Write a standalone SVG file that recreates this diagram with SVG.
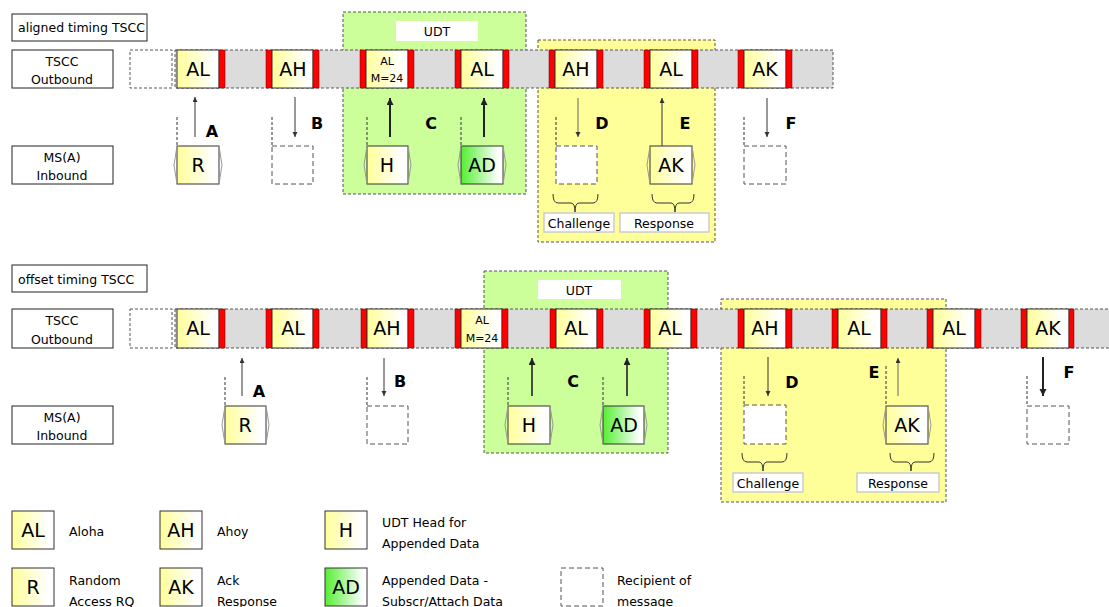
<svg xmlns="http://www.w3.org/2000/svg" width="1109" height="607" viewBox="0 0 1109 607">
<style>
text{font-family:"DejaVu Sans","Liberation Sans",sans-serif;fill:#000}
.lbl{fill:#fff;stroke:#222;stroke-width:1}
.lt{font-size:12.5px}
.ct{font-size:12.5px;text-anchor:middle}
.bar{fill:#dcdcdc;stroke:#555;stroke-width:1;stroke-dasharray:3,2}
.slot{fill:url(#gy);stroke:#333;stroke-width:1}
.slotg{fill:url(#gg);stroke:#333;stroke-width:1}
.red{fill:#f00;stroke:#600;stroke-width:0.5}
.st{font-size:19px;text-anchor:middle}
.sm{font-size:11px;text-anchor:middle}
.empty{fill:#fff;stroke:#555;stroke-width:1;stroke-dasharray:5,3}
.dv{stroke:#333;stroke-width:1;stroke-dasharray:3,2;fill:none}
.hex{fill:none;stroke:#999;stroke-width:1}
.green{fill:#ccff99;stroke:#555;stroke-width:1;stroke-dasharray:3,2}
.yel{fill:#ffff99;stroke:#555;stroke-width:1;stroke-dasharray:3,2}
.cap{fill:#fff;stroke:#ccc;stroke-width:1.5}
.brace{fill:none;stroke:#333;stroke-width:1}
.let{font-size:16px;font-weight:bold;text-anchor:middle}
.a1{stroke:#333;stroke-width:1;marker-end:url(#ah)}
.a2{stroke:#222;stroke-width:2;marker-end:url(#ahb)}
</style>
<defs>
<linearGradient id="gy" x1="0" y1="0" x2="1" y2="0"><stop offset="0" stop-color="#ffff99"/><stop offset="0.85" stop-color="#ffffff"/></linearGradient>
<linearGradient id="gg" x1="0" y1="0" x2="1" y2="0"><stop offset="0" stop-color="#55ee33"/><stop offset="0.9" stop-color="#ffffff"/></linearGradient>
<marker id="ah" markerUnits="userSpaceOnUse" markerWidth="6" markerHeight="6" refX="5" refY="2.5" orient="auto"><path d="M0,0 L5,2.5 L0,5 z" fill="#333"/></marker>
<marker id="ahb" markerUnits="userSpaceOnUse" markerWidth="9" markerHeight="8" refX="7" refY="3.5" orient="auto"><path d="M0,0 L7,3.5 L0,7 z" fill="#222"/></marker>
</defs>

<!-- ===== TOP: aligned timing ===== -->
<g id="top-areas">
<rect class="green" x="343" y="12" width="183" height="182"/>
<rect x="396" y="21" width="82" height="20" fill="#fff"/>
<text class="ct" x="437" y="36">UDT</text>
<rect class="yel" x="538" y="40" width="177" height="202"/>
</g>
<g id="top-label"><rect class="lbl" x="12" y="14" width="135" height="27"/><text class="lt" x="18" y="32">aligned timing TSCC</text></g>
<g id="top-out-label"><rect class="lbl" x="12" y="50" width="101" height="38"/><text class="ct" x="62" y="66">TSCC</text><text class="ct" x="62" y="84">Outbound</text></g>
<g id="top-in-label"><rect class="lbl" x="12" y="146" width="101" height="38"/><text class="ct" x="62" y="162">MS(A)</text><text class="ct" x="62" y="180">Inbound</text></g>
<g id="top-bar">
<rect class="empty" x="130" y="50" width="42" height="38" style="stroke-dasharray:3,2"/>
<rect class="bar" x="175" y="50" width="658" height="38"/>
</g>
<g id="top-slots">
<rect class="slot" x="177" y="50" width="42" height="38"/><rect class="red" x="219" y="50" width="6" height="38"/><text class="st" x="198" y="76">AL</text>
<rect class="red" x="266" y="50" width="6" height="38"/><rect class="slot" x="272" y="50" width="41" height="38"/><rect class="red" x="313" y="50" width="6" height="38"/><text class="st" x="293" y="76">AH</text>
<rect class="red" x="360" y="50" width="6" height="38"/><rect class="slot" x="366" y="50" width="42" height="38"/><rect class="red" x="408" y="50" width="6" height="38"/><text class="sm" x="387" y="65">AL</text><text class="sm" x="387" y="82">M=24</text>
<rect class="red" x="455" y="50" width="6" height="38"/><rect class="slot" x="461" y="50" width="42" height="38"/><rect class="red" x="503" y="50" width="6" height="38"/><text class="st" x="482" y="76">AL</text>
<rect class="red" x="549" y="50" width="6" height="38"/><rect class="slot" x="555" y="50" width="42" height="38"/><rect class="red" x="597" y="50" width="6" height="38"/><text class="st" x="576" y="76">AH</text>
<rect class="red" x="644" y="50" width="6" height="38"/><rect class="slot" x="650" y="50" width="42" height="38"/><rect class="red" x="692" y="50" width="6" height="38"/><text class="st" x="671" y="76">AL</text>
<rect class="red" x="738" y="50" width="6" height="38"/><rect class="slot" x="744" y="50" width="42" height="38"/><rect class="red" x="786" y="50" width="6" height="38"/><text class="st" x="765" y="76">AK</text>
</g>
<g id="top-R"><line class="dv" x1="177" y1="117" x2="177" y2="146"/><rect class="slot" x="177" y="146" width="42" height="38"/><polyline class="hex" points="177,146 174,165 177,184"/><polyline class="hex" points="219,146 222,165 219,184"/><text class="st" x="198" y="172">R</text></g>
<g id="top-B-box"><line class="dv" x1="272" y1="117" x2="272" y2="146"/><rect class="empty" x="272" y="146" width="41" height="38"/></g>
<g id="top-H"><line class="dv" x1="367" y1="117" x2="367" y2="146"/><rect class="slot" x="367" y="146" width="41" height="38"/><polyline class="hex" points="367,146 364,165 367,184"/><polyline class="hex" points="408,146 411,165 408,184"/><text class="st" x="387" y="172">H</text></g>
<g id="top-AD"><line class="dv" x1="461" y1="117" x2="461" y2="146"/><rect class="slotg" x="461" y="146" width="42" height="38"/><polyline class="hex" points="461,146 458,165 461,184"/><polyline class="hex" points="503,146 506,165 503,184"/><text class="st" x="482" y="172">AD</text></g>
<g id="top-D-box"><line class="dv" x1="556" y1="117" x2="556" y2="146"/><rect class="empty" x="556" y="146" width="41" height="38"/>
<path class="brace" d="M553,194 Q553,203 558,203 L571,203 Q575,203 575,212 Q575,203 579,203 L593,203 Q598,203 598,194"/>
<rect class="cap" x="544" y="213" width="70" height="19"/><text class="ct" x="579" y="228">Challenge</text></g>
<g id="top-AK"><rect class="slot" x="650" y="146" width="42" height="38"/><polyline class="hex" points="650,146 647,165 650,184"/><polyline class="hex" points="692,146 695,165 692,184"/><text class="st" x="671" y="172">AK</text>
<path class="brace" d="M652,194 Q652,203 657,203 L671,203 Q675,203 675,212 Q675,203 679,203 L689,203 Q694,203 694,194"/>
<rect class="cap" x="620" y="213" width="89" height="19"/><text class="ct" x="664" y="228">Response</text></g>
<g id="top-F-box"><line class="dv" x1="744" y1="117" x2="744" y2="146"/><rect class="empty" x="744" y="146" width="42" height="38"/></g>
<g id="top-connectors">
<line class="a1" x1="195" y1="137" x2="195" y2="97"/>
<line class="a1" x1="295" y1="97" x2="295" y2="137"/>
<line class="a2" x1="390" y1="137" x2="390" y2="98"/>
<line class="a2" x1="484" y1="137" x2="484" y2="98"/>
<line class="a1" x1="578" y1="98" x2="578" y2="137" style="stroke:#666"/>
<line class="a1" x1="662" y1="146" x2="662" y2="98"/>
<line class="a1" x1="767" y1="98" x2="767" y2="137"/>
<text class="let" x="212" y="137">A</text>
<text class="let" x="317" y="129">B</text>
<text class="let" x="431" y="129">C</text>
<text class="let" x="602" y="129">D</text>
<text class="let" x="685" y="129">E</text>
<text class="let" x="791" y="129">F</text>
</g>

<!-- ===== BOTTOM: offset timing ===== -->
<g id="bot-areas">
<rect class="green" x="484" y="271" width="184" height="182"/>
<rect x="538" y="280" width="83" height="19" fill="#fff"/>
<text class="ct" x="579" y="295">UDT</text>
<rect class="yel" x="721" y="299" width="225" height="203"/>
</g>
<g id="bot-label"><rect class="lbl" x="12" y="265" width="135" height="27"/><text class="lt" x="18" y="284">offset timing TSCC</text></g>
<g id="bot-out-label"><rect class="lbl" x="12" y="309" width="101" height="39"/><text class="ct" x="62" y="325">TSCC</text><text class="ct" x="62" y="344">Outbound</text></g>
<g id="bot-in-label"><rect class="lbl" x="12" y="406" width="101" height="38"/><text class="ct" x="62" y="422">MS(A)</text><text class="ct" x="62" y="440">Inbound</text></g>
<g id="bot-bar">
<rect class="empty" x="130" y="309" width="42" height="39" style="stroke-dasharray:3,2"/>
<rect class="bar" x="175" y="309" width="940" height="39"/>
</g>
<g id="bot-slots">
<rect class="slot" x="177" y="309" width="42" height="39"/><rect class="red" x="219" y="309" width="6" height="39"/><text class="st" x="198" y="335">AL</text>
<rect class="red" x="266" y="309" width="6" height="39"/><rect class="slot" x="272" y="309" width="41" height="39"/><rect class="red" x="313" y="309" width="6" height="39"/><text class="st" x="293" y="335">AL</text>
<rect class="red" x="361" y="309" width="6" height="39"/><rect class="slot" x="367" y="309" width="41" height="39"/><rect class="red" x="408" y="309" width="6" height="39"/><text class="st" x="387" y="335">AH</text>
<rect class="red" x="455" y="309" width="6" height="39"/><rect class="slot" x="461" y="309" width="41" height="39"/><rect class="red" x="502" y="309" width="6" height="39"/><text class="sm" x="482" y="324">AL</text><text class="sm" x="482" y="342">M=24</text>
<rect class="red" x="550" y="309" width="6" height="39"/><rect class="slot" x="556" y="309" width="41" height="39"/><rect class="red" x="597" y="309" width="6" height="39"/><text class="st" x="576" y="335">AL</text>
<rect class="red" x="644" y="309" width="6" height="39"/><rect class="slot" x="650" y="309" width="41" height="39"/><rect class="red" x="691" y="309" width="6" height="39"/><text class="st" x="670" y="335">AL</text>
<rect class="red" x="738" y="309" width="6" height="39"/><rect class="slot" x="744" y="309" width="42" height="39"/><rect class="red" x="786" y="309" width="6" height="39"/><text class="st" x="765" y="335">AH</text>
<rect class="red" x="832" y="309" width="6" height="39"/><rect class="slot" x="838" y="309" width="43" height="39"/><rect class="red" x="881" y="309" width="6" height="39"/><text class="st" x="859" y="335">AL</text>
<rect class="red" x="927" y="309" width="6" height="39"/><rect class="slot" x="933" y="309" width="42" height="39"/><rect class="red" x="975" y="309" width="6" height="39"/><text class="st" x="954" y="335">AL</text>
<rect class="red" x="1021" y="309" width="6" height="39"/><rect class="slot" x="1027" y="309" width="42" height="39"/><rect class="red" x="1069" y="309" width="5" height="39"/><text class="st" x="1048" y="335">AK</text>
</g>
<g id="bot-R"><line class="dv" x1="225" y1="377" x2="225" y2="406"/><rect class="slot" x="225" y="406" width="41" height="38"/><polyline class="hex" points="225,406 222,425 225,444"/><polyline class="hex" points="266,406 269,425 266,444"/><text class="st" x="245" y="432">R</text></g>
<g id="bot-B-box"><line class="dv" x1="367" y1="377" x2="367" y2="406"/><rect class="empty" x="367" y="406" width="41" height="38"/></g>
<g id="bot-H"><line class="dv" x1="508" y1="377" x2="508" y2="406"/><rect class="slot" x="508" y="406" width="42" height="38"/><polyline class="hex" points="508,406 505,425 508,444"/><polyline class="hex" points="550,406 553,425 550,444"/><text class="st" x="529" y="432">H</text></g>
<g id="bot-AD"><line class="dv" x1="603" y1="377" x2="603" y2="406"/><rect class="slotg" x="603" y="406" width="41" height="38"/><polyline class="hex" points="603,406 600,425 603,444"/><polyline class="hex" points="644,406 647,425 644,444"/><text class="st" x="624" y="432">AD</text></g>
<g id="bot-D-box"><line class="dv" x1="744" y1="376" x2="744" y2="405"/><rect class="empty" x="744" y="405" width="42" height="39"/>
<path class="brace" d="M742,453 Q742,462 747,462 L759,462 Q763,462 763,471 Q763,462 767,462 L782,462 Q787,462 787,453"/>
<rect class="cap" x="733" y="473" width="70" height="19"/><text class="ct" x="768" y="488">Challenge</text></g>
<g id="bot-AK"><line class="dv" x1="886" y1="366" x2="886" y2="406"/><rect class="slot" x="886" y="406" width="42" height="38"/><polyline class="hex" points="886,406 883,425 886,444"/><polyline class="hex" points="928,406 931,425 928,444"/><text class="st" x="907" y="432">AK</text>
<path class="brace" d="M890,453 Q890,462 895,462 L907,462 Q911,462 911,471 Q911,462 915,462 L929,462 Q934,462 934,453"/>
<rect class="cap" x="857" y="473" width="82" height="19"/><text class="ct" x="898" y="488">Response</text></g>
<g id="bot-F-box"><line class="dv" x1="1027" y1="376" x2="1027" y2="406"/><rect class="empty" x="1027" y="406" width="42" height="38"/></g>
<g id="bot-connectors">
<line class="a1" x1="242" y1="396" x2="242" y2="358"/>
<line class="a1" x1="384" y1="358" x2="384" y2="396"/>
<line class="a2" x1="532" y1="396" x2="532" y2="358" style="stroke-width:1.6"/>
<line class="a2" x1="627" y1="396" x2="627" y2="358" style="stroke-width:1.6"/>
<line class="a1" x1="768" y1="357" x2="768" y2="396"/>
<line class="a1" x1="898" y1="396" x2="898" y2="358" style="stroke:#666"/>
<line class="a2" x1="1043" y1="357" x2="1043" y2="396"/>
<text class="let" x="259" y="397">A</text>
<text class="let" x="400" y="387">B</text>
<text class="let" x="573" y="387">C</text>
<text class="let" x="792" y="388">D</text>
<text class="let" x="874" y="378">E</text>
<text class="let" x="1069" y="378">F</text>
</g>

<!-- ===== LEGEND ===== -->
<g id="leg-AL"><rect class="slot" x="12" y="511" width="42" height="38"/><text class="st" x="33" y="537">AL</text><text class="lt" x="69" y="536">Aloha</text></g>
<g id="leg-AH"><rect class="slot" x="160" y="511" width="42" height="38"/><text class="st" x="181" y="537">AH</text><text class="lt" x="217" y="536">Ahoy</text></g>
<g id="leg-H"><rect class="slot" x="325" y="511" width="42" height="38"/><text class="st" x="346" y="537">H</text><text class="lt" x="382" y="527">UDT Head for</text><text class="lt" x="382" y="548">Appended Data</text></g>
<g id="leg-R"><rect class="slot" x="12" y="568" width="42" height="38"/><text class="st" x="33" y="594">R</text><text class="lt" x="69" y="585">Random</text><text class="lt" x="69" y="606">Access RQ</text></g>
<g id="leg-AK"><rect class="slot" x="160" y="568" width="42" height="38"/><text class="st" x="181" y="594">AK</text><text class="lt" x="217" y="585">Ack</text><text class="lt" x="217" y="606">Response</text></g>
<g id="leg-AD"><rect class="slotg" x="325" y="568" width="42" height="38"/><text class="st" x="346" y="594">AD</text><text class="lt" x="382" y="585">Appended Data -</text><text class="lt" x="382" y="606">Subscr/Attach Data</text></g>
<g id="leg-recipient"><rect class="empty" x="561" y="568" width="42" height="38"/><text class="lt" x="617" y="585">Recipient of</text><text class="lt" x="617" y="606">message</text></g>
</svg>
